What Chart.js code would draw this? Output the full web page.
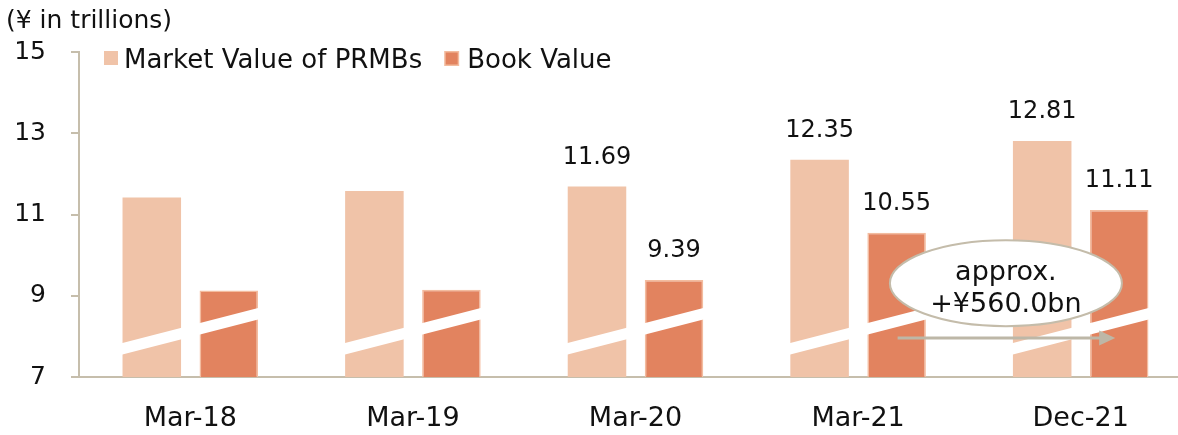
<!DOCTYPE html>
<html><head><meta charset="utf-8">
<script src="https://cdn.jsdelivr.net/npm/chart.js@4"></script>
<style>
html,body{margin:0;padding:0;background:#fff;overflow:hidden;}
#wrap{position:relative;width:1192px;height:435px;}
</style></head><body>
<div id="wrap"><canvas id="c" width="1192" height="435"></canvas></div>
<script>
const categories = ['Mar-18', 'Mar-19', 'Mar-20', 'Mar-21', 'Dec-21'];
const marketValues = [11.42, 11.58, 11.69, 12.35, 12.81];
const bookValues = [9.13, 9.15, 9.39, 10.55, 11.11];
const showValueLabel = [false, false, true, true, true];
const yTicks = [7, 9, 11, 13, 15];
const seriesNames = ['Market Value of PRMBs', 'Book Value'];
const unitLabel = '(¥ in trillions)';
const annotationLines = ['approx.', '+¥560.0bn'];

const FONT = '"DejaVu Sans", Verdana, sans-serif';
const MARKET_COLOR = '#f0c3a8';
const BOOK_COLOR = '#e2835f';
const BOOK_BORDER = '#f3bc9f';
const AXIS_COLOR = '#c6beac';

const overlayPlugin = {
  id: 'overlay',
  afterDatasetsDraw(chart) {
    const ctx = chart.ctx, y = chart.scales.y;
    const m0 = chart.getDatasetMeta(0), m1 = chart.getDatasetMeta(1);
    // white break bands
    const yl = y.getPixelForValue(7.84), yr = y.getPixelForValue(8.70), th = 11.5;
    ctx.save();
    ctx.fillStyle = '#ffffff';
    m0.data.forEach((b, i) => {
      const b1 = m1.data[i];
      const gl = b.x - b.width / 2, gr = b1.x + b1.width / 2;
      const slope = (yr - yl) / (gr - gl);
      const xl = gl - 2, xr = gr + 2;
      const y1 = yl + slope * (xl - gl), y2 = yl + slope * (xr - gl);
      ctx.beginPath();
      ctx.moveTo(xl, y1); ctx.lineTo(xr, y2); ctx.lineTo(xr, y2 + th); ctx.lineTo(xl, y1 + th);
      ctx.closePath(); ctx.fill();
    });
    // value labels
    ctx.fillStyle = '#111';
    ctx.font = '24px ' + FONT;
    ctx.textAlign = 'center';
    ctx.textBaseline = 'middle';
    [m0, m1].forEach((m, di) => {
      const vals = di === 0 ? marketValues : bookValues;
      m.data.forEach((b, i) => {
        if (!showValueLabel[i]) return;
        ctx.fillText(vals[i].toFixed(2), b.x, b.y - 29);
      });
    });
    // annotation ellipse
    const cx = (m1.data[3].x + m1.data[4].x) / 2 - 2;
    const cy = y.getPixelForValue(9.31);
    ctx.beginPath();
    ctx.ellipse(cx, cy, 116, 43, 0, 0, Math.PI * 2);
    ctx.fillStyle = '#ffffff';
    ctx.fill();
    ctx.lineWidth = 2;
    ctx.strokeStyle = '#c4bcaa';
    ctx.stroke();
    ctx.fillStyle = '#111';
    ctx.font = '27px ' + FONT;
    ctx.textBaseline = 'alphabetic';
    ctx.fillText(annotationLines[0], cx, cy - 3);
    ctx.fillText(annotationLines[1], cx, cy + 29);
    // arrow
    const ay = y.getPixelForValue(7.96);
    const ax0 = m1.data[3].x + 1, ax1 = m1.data[4].x - 4;
    ctx.strokeStyle = '#bdb7a7';
    ctx.fillStyle = '#bdb7a7';
    ctx.lineWidth = 3;
    ctx.beginPath();
    ctx.moveTo(ax0, ay); ctx.lineTo(ax1 - 14, ay); ctx.stroke();
    ctx.beginPath();
    ctx.moveTo(ax1, ay); ctx.lineTo(ax1 - 16, ay - 7.5); ctx.lineTo(ax1 - 16, ay + 7.5);
    ctx.closePath(); ctx.fill();
    ctx.restore();
  },
  afterDraw(chart) {
    const ctx = chart.ctx;
    ctx.save();
    // unit label
    ctx.fillStyle = '#111';
    ctx.font = '25px ' + FONT;
    ctx.textAlign = 'left';
    ctx.textBaseline = 'alphabetic';
    ctx.fillText(unitLabel, 6, 28);
    // legend
    ctx.font = '26px ' + FONT;
    const boxY = 51, box = 14, baseY = 68;
    let x = 104;
    ctx.fillStyle = MARKET_COLOR;
    ctx.fillRect(x, boxY, box, box);
    ctx.fillStyle = '#111';
    ctx.fillText(seriesNames[0], x + 20, baseY);
    x = x + 20 + ctx.measureText(seriesNames[0]).width + 22;
    ctx.fillStyle = BOOK_BORDER;
    ctx.fillRect(x, boxY, box + 1, box + 1);
    ctx.fillStyle = BOOK_COLOR;
    ctx.fillRect(x + 1.5, boxY + 1.5, box - 2, box - 2);
    ctx.fillStyle = '#111';
    ctx.fillText(seriesNames[1], x + 23, baseY);
    ctx.restore();
  }
};

new Chart(document.getElementById('c'), {
  type: 'bar',
  data: {
    labels: categories,
    datasets: [
      { label: seriesNames[0], data: marketValues, backgroundColor: MARKET_COLOR, borderWidth: 0 },
      { label: seriesNames[1], data: bookValues, backgroundColor: BOOK_COLOR, borderColor: BOOK_BORDER, borderWidth: 1.5 }
    ]
  },
  options: {
    responsive: false,
    devicePixelRatio: 1,
    animation: false,
    layout: { padding: { top: 52, left: 0, right: 0, bottom: 0 } },
    datasets: { bar: { categoryPercentage: 0.692, barPercentage: 0.76 } },
    plugins: { legend: { display: false }, tooltip: { enabled: false }, title: { display: false } },
    scales: {
      x: {
        z: 1,
        grid: { display: false, drawTicks: false },
        border: { display: true, color: AXIS_COLOR, width: 2 },
        ticks: { color: '#111', font: { family: FONT, size: 27 }, padding: 26 },
        afterFit: s => { s.height = 58; }
      },
      y: {
        min: 7, max: 15,
        grid: { drawOnChartArea: false, drawTicks: true, tickLength: 8, color: AXIS_COLOR, lineWidth: 2 },
        border: { display: true, color: AXIS_COLOR, width: 2 },
        ticks: { color: '#111', font: { family: FONT, size: 25 }, padding: 25 },
        afterBuildTicks: s => { s.ticks = yTicks.map(v => ({ value: v })); },
        afterFit: s => { s.width = 79; }
      }
    }
  },
  plugins: [overlayPlugin]
});
</script>
</body></html>
